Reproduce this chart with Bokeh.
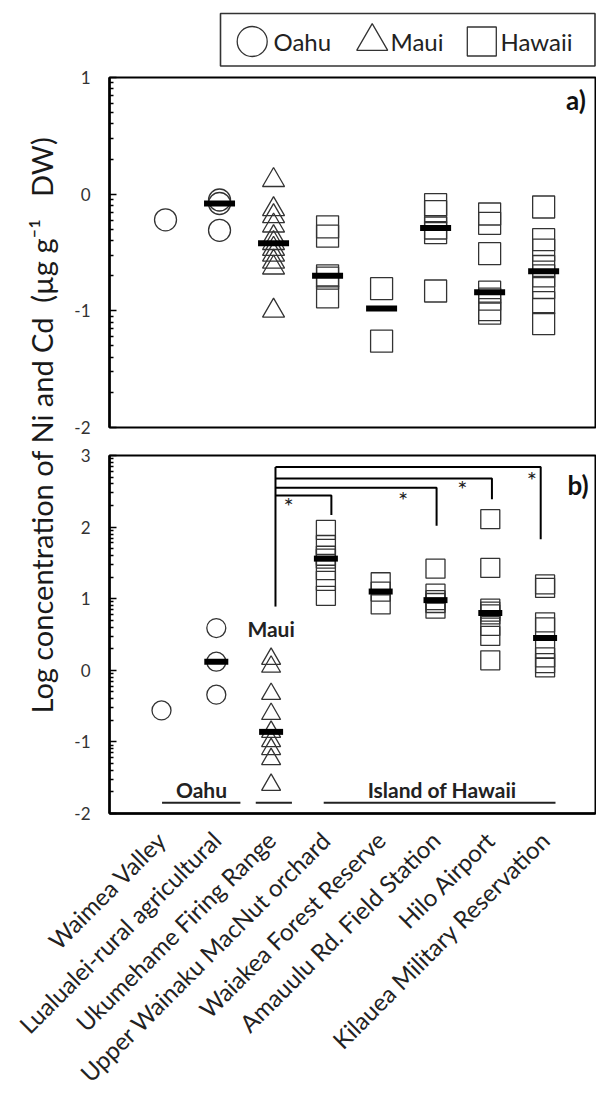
import math
from bokeh.plotting import figure
from bokeh.layouts import column
from bokeh.models import Range1d, FixedTicker, ColumnDataSource, Title
from bokeh.embed import file_html
from bokeh.resources import INLINE
from bokeh.core.properties import value

FONT = "Lato"

# ---------------- data ----------------
sites = ["Waimea Valley", "Lualualei-rural agricultural", "Ukumehame Firing Range",
         "Upper Wainaku MacNut orchard", "Waiakea Forest Reserve",
         "Amauulu Rd. Field Station", "Hilo Airport", "Kilauea Military Reservation"]
site_island = ["Oahu", "Oahu", "Maui", "Hawaii", "Hawaii", "Hawaii", "Hawaii", "Hawaii"]
island_names = ["Oahu", "Maui", "Hawaii"]
island_markers = ["circle", "triangle", "square"]

# panel a) log concentration
a_waimea = [-0.22]
a_lualualei = [-0.05, -0.08, -0.31]
a_ukumehame = [0.12, -0.13, -0.19, -0.27, -0.37, -0.42, -0.47, -0.52, -0.58, -0.63, -1.00]
a_wainaku = [-0.28, -0.36, -0.70, -0.72, -0.88]
a_waiakea = [-0.81, -1.26]
a_amauulu = [-0.09, -0.15, -0.29, -0.33, -0.83]
a_hilo = [-0.17, -0.25, -0.51, -0.84, -0.90, -0.99, -1.02]
a_kilauea = [-0.11, -0.39, -0.48, -0.62, -0.70, -0.80, -0.93, -1.11]
a_median = [None, -0.08, -0.42, -0.70, -0.98, -0.29, -0.84, -0.66]

# panel b) log concentration
b_waimea = [-0.56]
b_lualualei = [0.59, 0.12, -0.34]
b_ukumehame = [0.16, 0.05, -0.33, -0.61, -0.86, -0.99, -1.10, -1.24, -1.60]
b_wainaku = [1.96, 1.75, 1.60, 1.56, 1.40, 1.25, 1.04]
b_waiakea = [1.23, 1.10, 0.92]
b_amauulu = [1.42, 1.07, 0.98, 0.94, 0.86]
b_hilo = [2.11, 1.43, 0.86, 0.82, 0.78, 0.62, 0.48, 0.14]
b_kilauea = [1.20, 1.15, 0.67, 0.60, 0.30, 0.18, 0.10, 0.04]
b_median = [None, 0.12, -0.86, 1.56, 1.10, 0.98, 0.80, 0.45]

a_ticks = [-2, -1, 0, 1]
b_ticks = [-2, -1, 0, 1, 2, 3]

# significance brackets (Maui vs Hawaii sites), panel b
sig_from_x = 2.08
sig_base_y = 0.89
sig_top_y = [2.44, 2.55, 2.68, 2.84]
sig_to_x = [3.10, 5.02, 6.03, 6.92]
sig_end_y = [2.17, 2.02, 2.39, 1.83]
star_x = [2.32, 4.41, 5.49, 6.76]
star_y = [2.30, 2.39, 2.54, 2.66]

title_low = "Log concentration of"
title_high = "Ni and Cd\u00a0\u00a0(\u00b5g g\u207b\u00b9\u00a0\u00a0\u00a0DW)"

a_series = [a_waimea, a_lualualei, a_ukumehame, a_wainaku, a_waiakea, a_amauulu, a_hilo, a_kilauea]
b_series = [b_waimea, b_lualualei, b_ukumehame, b_wainaku, b_waiakea, b_amauulu, b_hilo, b_kilauea]


def marker_of(i):
    return island_markers[island_names.index(site_island[i])]


def points_source(series):
    xs, ys, ms = [], [], []
    for i, vals in enumerate(series):
        for v in vals:
            xs.append(i)
            ys.append(v)
            ms.append(marker_of(i))
    return ColumnDataSource(dict(x=xs, y=ys, marker=ms))


def median_source(meds):
    xs = [i for i, m in enumerate(meds) if m is not None]
    ys = [m for m in meds if m is not None]
    return ColumnDataSource(dict(x=xs, y=ys))


def minor_ticks(lo, hi):
    out = []
    for d in range(lo, hi):
        for k in range(2, 10):
            out.append(d + math.log10(k))
    return out


def style_panel(p, ticks, standoff):
    p.outline_line_color = "black"
    p.outline_line_width = 2
    p.outline_line_alpha = 1.0
    p.grid.visible = False
    yax = p.yaxis[0]
    yax.ticker = FixedTicker(ticks=ticks, minor_ticks=minor_ticks(ticks[0], ticks[-1]))
    yax.major_label_overrides = {t: str(t) for t in ticks}
    yax.axis_line_width = 2.5
    yax.axis_line_color = "black"
    yax.major_tick_in = 7
    yax.major_tick_out = 0
    yax.minor_tick_in = 4
    yax.minor_tick_out = 0
    yax.major_tick_line_width = 1.6
    yax.minor_tick_line_width = 1.3
    yax.major_label_text_font = FONT
    yax.major_label_text_font_size = "17px"
    yax.major_label_text_color = "#333333"
    yax.major_label_standoff = standoff


def side_title(text, align, offset):
    return Title(text=text, align=align, offset=offset, standoff=25,
                 text_font=FONT, text_font_size="29px", text_font_style="normal",
                 text_color="#1a1a1a")


# ---------------- legend strip ----------------
leg = figure(width=596, height=67, x_range=Range1d(0, 596), y_range=Range1d(0, 67),
             toolbar_location=None, output_backend="svg", min_border=0,
             x_axis_type=None, y_axis_type=None, frame_align=False)
leg.outline_line_color = None
leg.grid.visible = False
leg.quad(left=[220], right=[594.5], bottom=[1.5], top=[54], fill_color=None,
         line_color="#333333", line_width=1.6)
leg.scatter(x=[251.7, 371.7, 481.3], y=[26, 26, 26], marker=island_markers, size=[30, 31, 29],
            fill_alpha=0, line_color="#333333", line_width=1.3)
leg.text(x=[273, 390, 500], y=[26, 26, 26], text=island_names, text_align="left",
         text_baseline="middle", text_font=value(FONT), text_font_size="24px",
         text_color="#222222")

# ---------------- panel a ----------------
pa = figure(width=596, height=377, x_range=Range1d(-1.037, 7.96), y_range=Range1d(-2, 1),
            toolbar_location=None, output_backend="svg", x_axis_type=None, frame_align=False,
            min_border_left=109, min_border_right=1, min_border_top=10, min_border_bottom=17)
style_panel(pa, a_ticks, 19)
pa.scatter("x", "y", marker="marker", source=points_source(a_series), size=22,
           fill_alpha=0, line_color="#333333", line_width=1.3)
pa.scatter("x", "y", marker="dash", source=median_source(a_median), size=31,
           line_width=6, line_color="black")
pa.text(x=[7.6], y=[0.81], text=["a)"], text_align="center", text_baseline="middle",
        text_font=value(FONT), text_font_style="bold", text_font_size="26px",
        text_color="#111111")
pa.add_layout(side_title(title_high, "left", -16), "left")

# ---------------- panel b ----------------
pb = figure(width=596, height=656, x_range=Range1d(-0.949, 7.92), y_range=Range1d(-2, 3),
            toolbar_location=None, output_backend="svg", frame_align=False,
            min_border_left=109, min_border_right=1, min_border_top=11, min_border_bottom=287)
style_panel(pb, b_ticks, 19)
xax = pb.xaxis[0]
xax.ticker = FixedTicker(ticks=list(range(len(sites))))
xax.major_label_overrides = {i: s for i, s in enumerate(sites)}
xax.major_label_orientation = math.pi / 4
xax.major_tick_in = 0
xax.major_tick_out = 0
xax.minor_tick_in = 0
xax.minor_tick_out = 0
xax.axis_line_width = 2.5
xax.major_label_standoff = 22
xax.major_label_text_font = FONT
xax.major_label_text_font_size = "24px"
xax.major_label_text_color = "#222222"

pb.scatter("x", "y", marker="marker", source=points_source(b_series), size=19,
           fill_alpha=0, line_color="#333333", line_width=1.3)
pb.scatter("x", "y", marker="dash", source=median_source(b_median), size=24,
           line_width=6, line_color="black")

bx = [[sig_from_x, sig_from_x]] + [[sig_from_x, tx, tx] for tx in sig_to_x]
by = [[sig_base_y, sig_top_y[-1]]] + [[ty, ty, ey] for ty, ey in zip(sig_top_y, sig_end_y)]
pb.multi_line(xs=bx, ys=by, line_color="black", line_width=2)
pb.text(x=star_x, y=star_y, text=["*"] * len(star_x), text_align="center",
        text_baseline="middle", text_font=value(FONT), text_font_size="24px",
        text_color="#222222")

pb.text(x=[0.73, 2.0, 5.12], y=[-1.67, 0.59, -1.67], text=["Oahu", "Maui", "Island of Hawaii"],
        text_align="center", text_baseline="middle", text_font=value(FONT),
        text_font_style="bold", text_font_size="21px", text_color="#222222")
pb.multi_line(xs=[[0.01, 1.44], [1.72, 2.38], [2.96, 7.19]],
              ys=[[-1.85, -1.85], [-1.85, -1.85], [-1.85, -1.85]],
              line_color="#222222", line_width=2)
pb.text(x=[7.6], y=[2.59], text=["b)"], text_align="center", text_baseline="middle",
        text_font=value(FONT), text_font_style="bold", text_font_size="26px",
        text_color="#111111")
pb.add_layout(side_title(title_low, "right", -5), "left")

layout = column(leg, pa, pb)
open("out.html", "w").write(file_html(layout, INLINE))
